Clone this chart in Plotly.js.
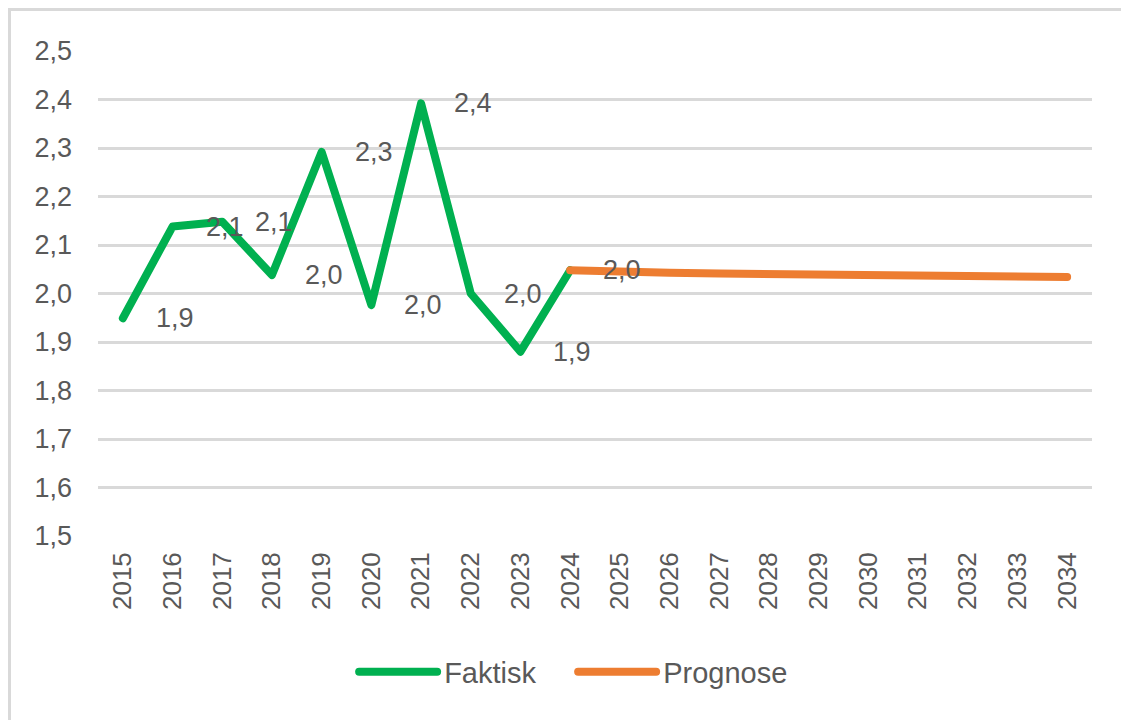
<!DOCTYPE html>
<html>
<head>
<meta charset="utf-8">
<script src="https://cdn.plot.ly/plotly-3.0.1.min.js"></script>
<style>
  html, body { margin: 0; padding: 0; background: #ffffff; }
  #wrap { position: relative; width: 1121px; height: 720px; overflow: hidden; }
  #chart { position: absolute; left: 0; top: 0; width: 1121px; height: 720px; }
  #frame { position: absolute; left: 8px; top: 8px; width: 1200px; height: 800px;
           border-left: 3px solid #d9d9d9; border-top: 3px solid #d9d9d9; pointer-events: none; }
  .scatterlayer path.js-line { stroke-linejoin: round; stroke-linecap: round; }
  .legend .legendlines path { d: path("M5,0h78"); stroke-linecap: round; }
</style>
</head>
<body>
<div id="wrap">
  <div id="chart"></div>
  <div id="frame"></div>
</div>
<script>
// ---- data ----
const years = ["2015","2016","2017","2018","2019","2020","2021","2022","2023","2024",
               "2025","2026","2027","2028","2029","2030","2031","2032","2033","2034"];
const faktiskYears = ["2015","2016","2017","2018","2019","2020","2021","2022","2023","2024"];
const faktiskValues = [1.949, 2.138, 2.148, 2.038, 2.292, 1.976, 2.392, 2.000, 1.880, 2.048];
const prognoseYears = ["2024","2025","2026","2027","2028","2029","2030","2031","2032","2033","2034"];
const prognoseValues = [2.048, 2.044, 2.043, 2.041, 2.040, 2.039, 2.034, 2.034, 2.034, 2.034, 2.034];
const yTickVals = [1.5, 1.6, 1.7, 1.8, 1.9, 2.0, 2.1, 2.2, 2.3, 2.4, 2.5];
const yTickText = ["1,5","1,6","1,7","1,8","1,9","2,0","2,1","2,2","2,3","2,4","2,5"];
const seriesNames = ["Faktisk", "Prognose"];
const seriesColors = ["#00b050", "#ed7d31"];

const fmt = v => v.toFixed(1).replace(".", ",");
const textColor = "#595959";
const fontFam = "'Liberation Sans', Arial, sans-serif";

const traces = [
  { type: "scatter", mode: "lines", name: seriesNames[0], x: faktiskYears, y: faktiskValues,
    line: { color: seriesColors[0], width: 8 }, hoverinfo: "x+y" },
  { type: "scatter", mode: "lines", name: seriesNames[1], x: prognoseYears, y: prognoseValues,
    line: { color: seriesColors[1], width: 8 }, hoverinfo: "x+y" }
];

// category axis: annotations positioned by category serial number
const annotations = faktiskYears.map((yr, i) => ({
  x: years.indexOf(yr), y: faktiskValues[i], xref: "x", yref: "y",
  text: fmt(faktiskValues[i]), showarrow: false,
  xanchor: "left", yanchor: "middle", xshift: 31,
  font: { family: fontFam, size: 27, color: textColor }
}));

const layout = {
  width: 1121, height: 720,
  margin: { l: 98, r: 29, t: 51, b: 184, autoexpand: false },
  paper_bgcolor: "rgba(0,0,0,0)", plot_bgcolor: "rgba(0,0,0,0)",
  font: { family: fontFam, color: textColor },
  showlegend: true,
  legend: {
    orientation: "h", x: 0.478, xanchor: "center", y: -0.2804, yanchor: "middle",
    font: { family: fontFam, size: 29, color: textColor },
    itemwidth: 80, entrywidth: 124, entrywidthmode: "pixels", traceorder: "normal"
  },
  xaxis: {
    type: "category", categoryorder: "array", categoryarray: years,
    range: [-0.5, 19.5], showgrid: false, zeroline: false, showline: false,
    ticks: "", tickangle: -90, ticklabelstandoff: 10,
    tickfont: { family: fontFam, size: 26, color: textColor }, fixedrange: true
  },
  yaxis: {
    range: [1.5, 2.5], tickvals: yTickVals, ticktext: yTickText,
    showgrid: true, gridcolor: "#d9d9d9", gridwidth: 3,
    zeroline: false, showline: false, ticks: "", ticklabelstandoff: 25,
    tickfont: { family: fontFam, size: 27, color: textColor }, fixedrange: true
  },
  annotations: annotations
};

Plotly.newPlot("chart", traces, layout, { displayModeBar: false, staticPlot: true });
</script>
</body>
</html>
